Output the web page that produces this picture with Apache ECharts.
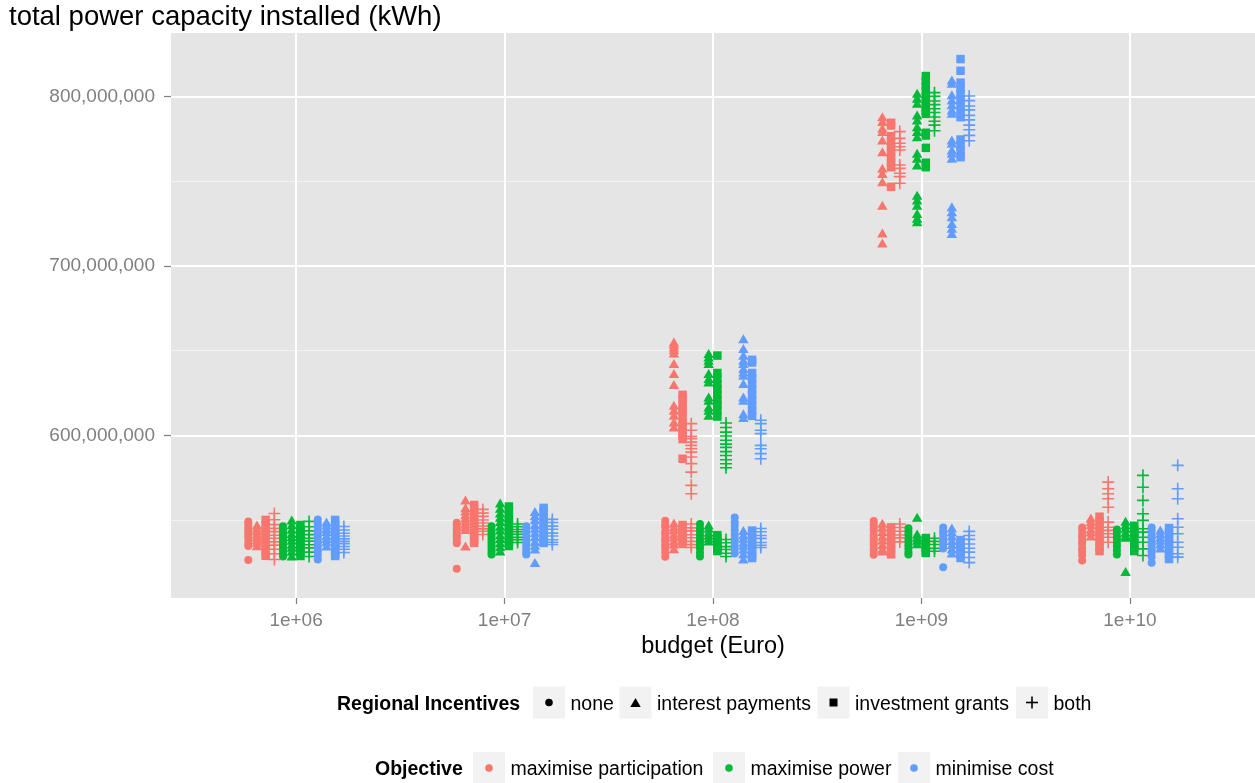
<!DOCTYPE html>
<html>
<head>
<meta charset="utf-8">
<script src="https://cdn.jsdelivr.net/npm/echarts@6/dist/echarts.min.js"></script>
<style>
html,body{margin:0;padding:0;background:#ffffff;}
#chart{width:1255px;height:783px;}
</style>
</head>
<body>
<div id="chart"></div>
<script>
// ---------------- data ----------------
const budgetLabels = ['1e+06', '1e+07', '1e+08', '1e+09', '1e+10'];
const objectiveNames = ['maximise participation', 'maximise power', 'minimise cost'];
const incentiveNames = ['none', 'interest payments', 'investment grants', 'both'];
const yTickValues = [600, 700, 800];          // millions of kWh
const yMinorValues = [550, 650, 750];         // millions of kWh

// values in millions of kWh; one sub-array per budget (1e+06 ... 1e+10)
const participationNone = [
  [549.2, 547.8, 546.1, 544.6, 543.0, 541.3, 540.1, 538.4, 536.2, 534.7, 526.5],
  [548.4, 546.9, 545.2, 544.1, 542.3, 540.8, 539.6, 537.7, 536.3, 521.2],
  [549.6, 547.3, 545.8, 543.1, 541.6, 539.2, 537.5, 535.1, 533.4, 530.9, 528.4],
  [549.4, 547.6, 545.2, 543.5, 540.9, 539.3, 537.2, 535.6, 533.1, 531.4, 529.6],
  [545.6, 543.8, 541.3, 539.7, 537.4, 535.9, 533.2, 531.6, 529.3, 526.1]
];
const participationInterest = [
  [547.1, 545.3, 543.7, 541.8, 540.2, 538.6, 536.9, 534.8],
  [561.8, 557.2, 555.4, 553.1, 551.3, 549.6, 547.9, 546.2, 544.4, 534.7],
  [548.2, 546.1, 544.3, 541.9, 540.2, 537.8, 535.9, 533.0,
   655.1, 653.8, 652.2, 650.6, 648.6, 642.4, 636.5, 630.0, 617.7, 614.8, 611.8, 607.9, 604.9],
  [548.1, 545.7, 543.2, 540.4, 538.3, 535.6, 533.1, 531.8,
   788.1, 785.2, 781.3, 779.3, 774.3, 767.4, 757.6, 754.6, 749.7, 735.9, 719.5, 713.5],
  [551.2, 549.1, 547.2, 544.8, 542.9, 540.6]
];
const participationGrants = [
  [550.1, 547.2, 544.3, 541.6, 538.8, 536.4, 534.1, 531.2, 528.9],
  [558.9, 556.1, 553.2, 550.4, 548.1, 545.7, 543.2, 540.6, 538.3, 536.5],
  [547.1, 545.2, 543.0, 541.3, 539.1, 537.4, 535.9,
   623.9, 621.2, 618.1, 615.3, 612.4, 607.8, 605.2, 602.4, 599.8, 597.8, 586.2],
  [545.7, 543.1, 540.6, 537.9, 535.4, 532.8, 529.8,
   784.5, 782.9, 776.6, 773.2, 770.1, 766.8, 764.0, 761.2, 758.3, 746.7],
  [552.0, 549.3, 546.1, 543.2, 540.1, 537.2, 534.3, 531.7]
];
const participationBoth = [
  [553.9, 550.2, 547.3, 545.1, 543.2, 541.0, 539.3, 537.1, 535.2, 532.8, 530.1, 526.7],
  [556.3, 554.1, 552.2, 550.0, 548.3, 546.5, 544.8, 543.4, 541.5],
  [547.7, 545.4, 543.6, 541.3, 539.6, 537.4, 535.5, 533.8,
   606.9, 603.0, 599.4, 598.0, 596.0, 594.1, 592.1, 590.1, 587.2, 583.3, 578.3, 570.5, 565.5],
  [547.7, 545.6, 543.4, 541.2, 539.5, 537.1,
   779.3, 775.3, 772.4, 770.4, 768.4, 759.6, 757.6, 754.7, 752.7, 748.8],
  [572.4, 568.5, 565.5, 562.6, 557.6, 548.8, 545.8, 543.9, 541.9, 539.9, 536.9]
];
const powerNone = [
  [546.3, 544.1, 542.2, 540.6, 538.9, 537.3, 535.8, 534.1, 532.2, 530.1, 528.5],
  [546.3, 544.2, 542.1, 540.3, 538.6, 536.8, 535.1, 533.2, 531.3, 529.7],
  [547.7, 545.1, 543.2, 541.1, 538.8, 537.2, 535.1, 533.3, 530.8, 528.5],
  [545.2, 543.1, 541.3, 538.9, 537.2, 535.1, 533.3, 531.2, 529.7],
  [544.4, 542.6, 540.3, 538.7, 536.4, 534.6, 532.1, 529.7]
];
const powerInterest = [
  [550.1, 547.2, 544.6, 542.1, 540.2, 538.1, 535.8, 533.9, 531.6, 528.8],
  [560.1, 557.0, 554.2, 551.6, 549.1, 546.4, 544.2, 541.3, 539.1, 536.6, 534.2, 531.7],
  [547.1, 545.2, 542.8, 541.1, 539.2, 537.6,
   648.3, 646.3, 644.3, 642.4, 636.5, 633.5, 631.5, 622.6, 620.7, 616.7, 614.8, 611.8],
  [551.7, 541.8, 539.9, 538.1, 536.0,
   801.9, 799.0, 796.0, 789.1, 786.2, 782.2, 779.3, 776.3, 766.5, 763.5, 759.6, 741.8, 738.9, 735.9, 731.0, 728.1, 726.1],
  [549.3, 547.1, 545.2, 542.8, 541.1, 539.8, 519.6]
];
const powerGrants = [
  [547.1, 544.6, 542.2, 540.1, 537.9, 536.2, 533.8, 531.4, 528.8],
  [558.0, 555.2, 552.1, 549.6, 546.8, 544.3, 542.1, 539.4, 537.2, 534.7],
  [541.1, 539.2, 537.1, 534.8, 533.1, 531.7,
   647.1, 636.8, 633.4, 630.2, 627.1, 624.0, 620.8, 617.9, 614.7, 611.1],
  [539.4, 537.3, 535.6, 533.4, 531.6, 530.6,
   812.1, 809.2, 806.1, 803.3, 800.2, 797.1, 794.2, 791.6, 789.8, 778.6, 777.0, 769.7, 760.9, 758.3],
  [546.6, 543.9, 541.6, 538.9, 536.3, 534.1, 531.7]
];
const powerBoth = [
  [549.2, 546.1, 543.6, 541.4, 539.3, 537.6, 535.4, 533.6, 531.1, 528.5],
  [547.7, 546.1, 544.4, 543.1, 541.6, 539.8, 538.4, 536.8],
  [538.5, 536.6, 534.3, 532.6, 530.4, 528.5,
   607.3, 604.6, 601.9, 599.6, 597.1, 594.8, 592.9, 590.4, 588.1, 585.6, 583.2, 580.9],
  [539.3, 537.4, 535.6, 533.3, 531.6,
   802.3, 800.1, 797.4, 795.2, 792.8, 790.6, 787.9, 785.4, 783.1, 779.8],
  [576.4, 569.4, 561.6, 553.7, 549.8, 544.9, 542.9, 539.9, 536.9, 533.0, 529.1]
];
const costNone = [
  [550.4, 548.1, 546.2, 543.9, 542.1, 540.2, 537.8, 536.1, 533.9, 531.8, 529.2, 526.7],
  [546.3, 544.2, 542.6, 540.8, 538.9, 537.1, 535.2, 533.1, 531.2, 529.7],
  [551.5, 548.9, 546.6, 544.2, 541.4, 539.1, 537.2, 534.8, 532.6, 530.3],
  [545.6, 543.4, 541.6, 539.3, 537.6, 535.4, 533.2, 522.2],
  [545.6, 543.7, 541.1, 539.2, 536.9, 535.1, 532.8, 531.1, 528.4, 524.8]
];
const costInterest = [
  [548.9, 547.1, 545.0, 543.2, 540.9, 539.1, 537.2, 534.7],
  [555.1, 552.6, 550.2, 547.4, 545.1, 542.6, 540.2, 537.4, 535.1, 532.9, 524.9],
  [543.8, 541.4, 539.2, 536.9, 535.1, 532.8, 530.1, 527.0,
   657.1, 651.2, 647.3, 644.3, 642.4, 639.4, 637.4, 635.5, 630.6, 622.6, 620.7, 612.8, 610.5],
  [545.3, 542.9, 540.6, 537.9, 535.6, 532.9, 530.6,
   809.8, 807.9, 801.0, 798.0, 795.1, 792.1, 790.1, 774.3, 772.4, 768.4, 766.5, 763.5, 734.9, 732.0, 729.0, 725.1, 722.2, 719.2],
  [544.2, 542.1, 539.8, 538.1, 535.9, 533.5]
];
const costGrants = [
  [550.1, 547.6, 544.9, 542.4, 540.2, 537.4, 535.1, 532.4, 530.1, 528.8],
  [557.2, 554.6, 551.9, 549.4, 547.2, 544.3, 542.1, 539.6, 537.1, 536.5],
  [543.8, 541.4, 538.9, 536.6, 534.1, 531.4, 529.1, 527.6,
   644.6, 643.0, 636.8, 633.6, 630.1, 627.2, 623.9, 620.6, 617.4, 614.6, 611.5],
  [538.2, 536.1, 533.9, 532.1, 529.8, 527.6,
   822.1, 815.2, 808.2, 805.1, 801.4, 798.2, 794.6, 791.1, 787.8, 774.6, 771.1, 767.4, 764.2],
  [545.3, 542.6, 540.1, 537.4, 535.2, 532.4, 530.1, 527.0]
];
const costBoth = [
  [546.2, 544.1, 542.2, 540.6, 538.9, 537.4, 536.1, 534.4, 532.8, 530.9],
  [550.4, 548.6, 546.4, 544.6, 542.3, 540.6, 538.4, 536.9, 535.6],
  [545.0, 543.1, 540.9, 539.2, 536.8, 535.1, 533.8,
   608.9, 606.9, 603.0, 601.0, 594.1, 592.1, 589.2, 586.2],
  [543.3, 540.9, 538.6, 535.9, 533.4, 531.1, 527.9, 524.9,
   800.3, 797.6, 794.4, 792.1, 788.9, 786.2, 783.1, 780.4, 777.1, 773.9],
  [582.3, 568.5, 562.6, 550.8, 545.8, 541.9, 536.9, 534.0, 530.1, 528.1]
];

// ---------------- styles ----------------
const FONT = '"Liberation Sans", Arial, Helvetica, sans-serif';
const objectiveColors = ['#F8766D', '#00BA38', '#619CFF'];
const PLUS = 'path://M0,5.2H12V6.8H0Z M5.2,0H6.8V12H5.2Z';
const incentiveSymbols = ['circle', 'triangle', 'rect', PLUS];
const incentiveSizes = [8, [10.5, 9], 8.5, 12];
const DODGE = 0.5 / 12;

const groups = [
  [participationNone, participationInterest, participationGrants, participationBoth],
  [powerNone, powerInterest, powerGrants, powerBoth],
  [costNone, costInterest, costGrants, costBoth]
];

const series = [];
groups.forEach((group, o) => {
  group.forEach((perBudget, i) => {
    const offset = (o * 4 + i - 5.5) * DODGE;
    const data = [];
    perBudget.forEach((vals, b) => vals.forEach(v => data.push([b + offset, v])));
    series.push({
      type: 'scatter',
      name: objectiveNames[o] + ' · ' + incentiveNames[i],
      data: data,
      symbol: incentiveSymbols[i],
      symbolSize: incentiveSizes[i],
      itemStyle: { color: objectiveColors[o], opacity: 1 },
      silent: true,
      animation: false
    });
  });
});

function fmtBig(v) {
  return String(Math.round(v * 1e6)).replace(/\B(?=(\d{3})+(?!\d))/g, ',');
}

// ---------------- legend (drawn as graphic) ----------------
const graphics = [];
const legendFont = '19.5px ' + FONT;
const legendBold = 'bold 19.5px ' + FONT;
function addText(x, y, text, font) {
  graphics.push({
    type: 'text', x: x, y: y, silent: true,
    style: { text: text, font: font, fill: '#000000', align: 'left', verticalAlign: 'middle',
             textAlign: 'left', textVerticalAlign: 'middle' }
  });
}
function addBox(x, yc) {
  graphics.push({ type: 'rect', silent: true, shape: { x: x, y: yc - 16, width: 32, height: 32 },
                  style: { fill: '#F2F2F2' } });
}
function addSymbol(kind, cx, cy, color) {
  if (kind === 0) {
    graphics.push({ type: 'circle', silent: true, shape: { cx: cx, cy: cy, r: 3.8 }, style: { fill: color } });
  } else if (kind === 1) {
    graphics.push({ type: 'polygon', silent: true,
      shape: { points: [[cx, cy - 4.6], [cx + 5.2, cy + 4.4], [cx - 5.2, cy + 4.4]] }, style: { fill: color } });
  } else if (kind === 2) {
    graphics.push({ type: 'rect', silent: true, shape: { x: cx - 4, y: cy - 4, width: 8, height: 8 }, style: { fill: color } });
  } else {
    graphics.push({ type: 'rect', silent: true, shape: { x: cx - 6, y: cy - 0.8, width: 12, height: 1.6 }, style: { fill: color } });
    graphics.push({ type: 'rect', silent: true, shape: { x: cx - 0.8, y: cy - 6, width: 1.6, height: 12 }, style: { fill: color } });
  }
}
// row 1: Regional Incentives (shape)
const row1Y = 705;
const row1Boxes = [533, 619.5, 817.5, 1016];
addText(337, row1Y, 'Regional Incentives', legendBold);
incentiveNames.forEach((name, i) => {
  addBox(row1Boxes[i], 702.5);
  addSymbol(i, row1Boxes[i] + 16, 702.5, '#000000');
  addText(row1Boxes[i] + 37.5, row1Y, name, legendFont);
});
// row 2: Objective (colour)
const row2Y = 769.5;
const row2Boxes = [473, 713, 898];
addText(375, row2Y, 'Objective', legendBold);
objectiveNames.forEach((name, o) => {
  addBox(row2Boxes[o], 768);
  addSymbol(0, row2Boxes[o] + 16, 768, objectiveColors[o]);
  addText(row2Boxes[o] + 37.5, row2Y, name, legendFont);
});

// ---------------- chart ----------------
const chart = echarts.init(document.getElementById('chart'), null, { renderer: 'canvas' });
chart.setOption({
  animation: false,
  backgroundColor: '#ffffff',
  textStyle: { fontFamily: FONT },
  title: {
    text: 'total power capacity installed (kWh)',
    left: 9, top: 3, padding: 0,
    textStyle: { fontSize: 27.5, fontWeight: 'normal', color: '#000000', fontFamily: FONT }
  },
  grid: {
    left: 171, right: 0, top: 33, bottom: 185,
    show: true, backgroundColor: '#E5E5E5', borderWidth: 0
  },
  xAxis: {
    type: 'value', min: -0.6, max: 4.6,
    name: 'budget (Euro)', nameLocation: 'middle', nameGap: 31,
    nameTextStyle: { fontSize: 23.5, color: '#000000', fontFamily: FONT },
    axisLine: { show: false, onZero: false },
    axisTick: { show: true, length: 6, lineStyle: { color: '#7F7F7F', width: 1.2 },
                customValues: budgetLabels.map((_, i) => i) },
    axisLabel: { customValues: budgetLabels.map((_, i) => i), formatter: v => budgetLabels[Math.round(v)],
                 color: '#7F7F7F', fontSize: 19, fontFamily: FONT, margin: 13 },
    splitLine: { show: true, lineStyle: { color: '#FFFFFF', width: 2 } }
  },
  yAxis: [{
    type: 'value', min: 504.0, max: 837.5, position: 'left',
    axisLine: { show: false, onZero: false },
    axisTick: { show: true, length: 7, lineStyle: { color: '#7F7F7F', width: 1.2 }, customValues: yTickValues },
    axisLabel: { customValues: yTickValues, formatter: fmtBig, color: '#7F7F7F', fontSize: 19,
                 fontFamily: FONT, margin: 16 },
    splitLine: { show: true, lineStyle: { color: '#FFFFFF', width: 2 } }
  }, {
    type: 'value', min: 504.0, max: 837.5, position: 'left',
    axisLine: { show: false, onZero: false },
    axisTick: { show: false, customValues: yMinorValues },
    axisLabel: { show: false, customValues: yMinorValues },
    splitLine: { show: true, lineStyle: { color: '#F2F2F2', width: 1 } }
  }],
  graphic: graphics,
  series: series
});
</script>
</body>
</html>
